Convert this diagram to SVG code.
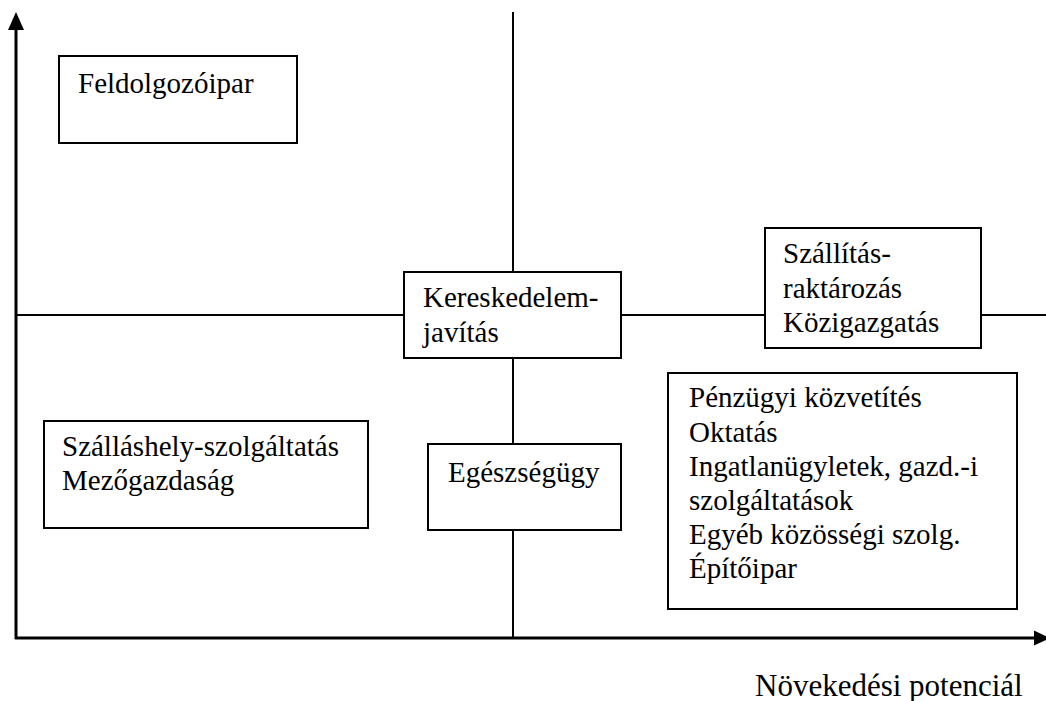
<svg xmlns="http://www.w3.org/2000/svg" width="1046" height="701" viewBox="0 0 1046 701">
<defs>
<style>
.box{fill:#fff;stroke:#000;stroke-width:2}
.ln{stroke:#000;stroke-width:2;fill:none}
.ax{stroke:#000;stroke-width:3;fill:none}
.t{font-family:'Liberation Serif','Times New Roman','DejaVu Serif',serif;font-size:29px;fill:#000}
</style>
</defs>
<rect width="1046" height="701" fill="#fff"/>
<g id="connectors">
<line class="ln" x1="513" y1="12" x2="513" y2="272"/>
<line class="ln" x1="513" y1="358" x2="513" y2="444"/>
<line class="ln" x1="513" y1="530" x2="513" y2="638"/>
<line class="ln" x1="16" y1="315" x2="404" y2="315"/>
<line class="ln" x1="621" y1="315" x2="765" y2="315"/>
<line class="ln" x1="981" y1="315" x2="1046" y2="315"/>
<line class="ax" x1="16" y1="28" x2="16" y2="639"/>
<polygon points="16,12 8,30 24,30" fill="#000"/>
<line class="ax" x1="15" y1="638" x2="1036" y2="638"/>
<polygon points="1050,638 1034,630.5 1034,645.5" fill="#000"/>
</g>
<g id="feldolgozoipar">
<rect class="box" x="59" y="56" width="238" height="87"/>
<text class="t" font-family="Liberation Serif, serif" x="78" y="93">Feldolgozóipar</text>
</g>
<g id="kereskedelem">
<rect class="box" x="404" y="272" width="217" height="86"/>
<text class="t" font-family="Liberation Serif, serif" x="423" y="307">Kereskedelem-</text>
<text class="t" font-family="Liberation Serif, serif" x="423" y="342">javítás</text>
</g>
<g id="szallitas">
<rect class="box" x="765" y="228" width="216" height="120"/>
<text class="t" font-family="Liberation Serif, serif" x="783" y="263">Szállítás-</text>
<text class="t" font-family="Liberation Serif, serif" x="783" y="298">raktározás</text>
<text class="t" font-family="Liberation Serif, serif" x="783" y="332">Közigazgatás</text>
</g>
<g id="egeszsegugy">
<rect class="box" x="428" y="444" width="193" height="86"/>
<text class="t" font-family="Liberation Serif, serif" x="448" y="482">Egészségügy</text>
</g>
<g id="szallashely">
<rect class="box" x="44" y="421" width="324" height="107"/>
<text class="t" font-family="Liberation Serif, serif" x="62" y="456">Szálláshely-szolgáltatás</text>
<text class="t" font-family="Liberation Serif, serif" x="62" y="490">Mezőgazdaság</text>
</g>
<g id="penzugyi">
<rect class="box" x="668" y="373" width="349" height="236"/>
<text class="t" font-family="Liberation Serif, serif" x="689" y="407">Pénzügyi közvetítés</text>
<text class="t" font-family="Liberation Serif, serif" x="689" y="442">Oktatás</text>
<text class="t" font-family="Liberation Serif, serif" x="689" y="476">Ingatlanügyletek, gazd.-i</text>
<text class="t" font-family="Liberation Serif, serif" x="689" y="510">szolgáltatások</text>
<text class="t" font-family="Liberation Serif, serif" x="689" y="544">Egyéb közösségi szolg.</text>
<text class="t" font-family="Liberation Serif, serif" x="689" y="578">Építőipar</text>
</g>
<g id="axis-label">
<text class="t" font-family="Liberation Serif, serif" x="755" y="696" style="font-size:31px">Növekedési potenciál</text>
</g>
</svg>
